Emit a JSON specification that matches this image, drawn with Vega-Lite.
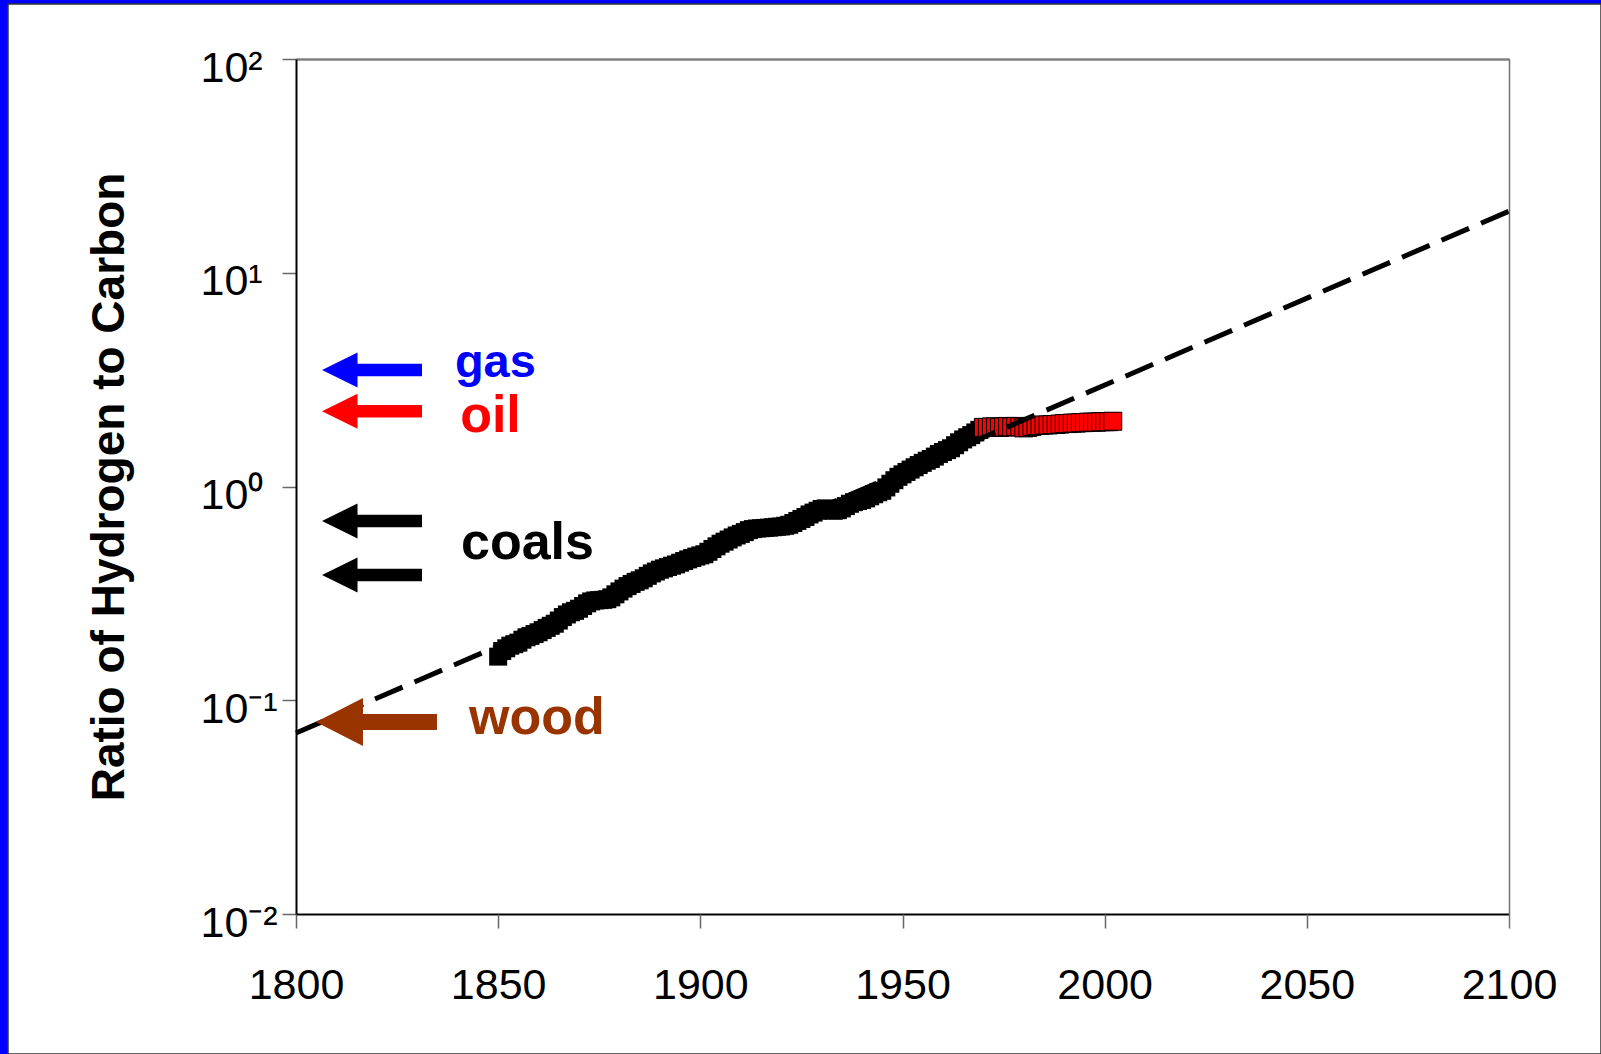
{
  "$schema": "https://vega.github.io/schema/vega-lite/v6.json",
  "width": 1593,
  "height": 1050,
  "autosize": {"type": "none"},
  "padding": {"left": 8, "top": 4, "right": 0, "bottom": 0},
  "background": "#0000FF",
  "config": {"view": {"fill": "#FFFFFF", "stroke": "#333333", "strokeWidth": 1.5}, "font": "Liberation Sans"},
  "datasets": {
    "coal": [
      {"year": 1850, "ratio": 0.160}, {"year": 1851, "ratio": 0.170}, {"year": 1852, "ratio": 0.175}, {"year": 1853, "ratio": 0.180}, {"year": 1854, "ratio": 0.183},
      {"year": 1855, "ratio": 0.186}, {"year": 1856, "ratio": 0.192}, {"year": 1857, "ratio": 0.197}, {"year": 1858, "ratio": 0.200}, {"year": 1859, "ratio": 0.204},
      {"year": 1860, "ratio": 0.208}, {"year": 1861, "ratio": 0.213}, {"year": 1862, "ratio": 0.218}, {"year": 1863, "ratio": 0.223}, {"year": 1864, "ratio": 0.228},
      {"year": 1865, "ratio": 0.236}, {"year": 1866, "ratio": 0.245}, {"year": 1867, "ratio": 0.252}, {"year": 1868, "ratio": 0.258}, {"year": 1869, "ratio": 0.262},
      {"year": 1870, "ratio": 0.268}, {"year": 1871, "ratio": 0.276}, {"year": 1872, "ratio": 0.284}, {"year": 1873, "ratio": 0.290}, {"year": 1874, "ratio": 0.293},
      {"year": 1875, "ratio": 0.294}, {"year": 1876, "ratio": 0.295}, {"year": 1877, "ratio": 0.297}, {"year": 1878, "ratio": 0.303}, {"year": 1879, "ratio": 0.313},
      {"year": 1880, "ratio": 0.323}, {"year": 1881, "ratio": 0.333}, {"year": 1882, "ratio": 0.342}, {"year": 1883, "ratio": 0.350}, {"year": 1884, "ratio": 0.358},
      {"year": 1885, "ratio": 0.364}, {"year": 1886, "ratio": 0.372}, {"year": 1887, "ratio": 0.382}, {"year": 1888, "ratio": 0.392}, {"year": 1889, "ratio": 0.400},
      {"year": 1890, "ratio": 0.408}, {"year": 1891, "ratio": 0.414}, {"year": 1892, "ratio": 0.420}, {"year": 1893, "ratio": 0.426}, {"year": 1894, "ratio": 0.432},
      {"year": 1895, "ratio": 0.440}, {"year": 1896, "ratio": 0.448}, {"year": 1897, "ratio": 0.456}, {"year": 1898, "ratio": 0.463}, {"year": 1899, "ratio": 0.470},
      {"year": 1900, "ratio": 0.476}, {"year": 1901, "ratio": 0.482}, {"year": 1902, "ratio": 0.495}, {"year": 1903, "ratio": 0.510}, {"year": 1904, "ratio": 0.525},
      {"year": 1905, "ratio": 0.540}, {"year": 1906, "ratio": 0.552}, {"year": 1907, "ratio": 0.565}, {"year": 1908, "ratio": 0.578}, {"year": 1909, "ratio": 0.590},
      {"year": 1910, "ratio": 0.600}, {"year": 1911, "ratio": 0.612}, {"year": 1912, "ratio": 0.625}, {"year": 1913, "ratio": 0.632}, {"year": 1914, "ratio": 0.636},
      {"year": 1915, "ratio": 0.638}, {"year": 1916, "ratio": 0.640}, {"year": 1917, "ratio": 0.642}, {"year": 1918, "ratio": 0.645}, {"year": 1919, "ratio": 0.648},
      {"year": 1920, "ratio": 0.650}, {"year": 1921, "ratio": 0.655}, {"year": 1922, "ratio": 0.662}, {"year": 1923, "ratio": 0.675}, {"year": 1924, "ratio": 0.690},
      {"year": 1925, "ratio": 0.705}, {"year": 1926, "ratio": 0.720}, {"year": 1927, "ratio": 0.740}, {"year": 1928, "ratio": 0.755}, {"year": 1929, "ratio": 0.770},
      {"year": 1930, "ratio": 0.785}, {"year": 1931, "ratio": 0.790}, {"year": 1932, "ratio": 0.780}, {"year": 1933, "ratio": 0.770}, {"year": 1934, "ratio": 0.775},
      {"year": 1935, "ratio": 0.790}, {"year": 1936, "ratio": 0.810}, {"year": 1937, "ratio": 0.830}, {"year": 1938, "ratio": 0.845}, {"year": 1939, "ratio": 0.855},
      {"year": 1940, "ratio": 0.865}, {"year": 1941, "ratio": 0.880}, {"year": 1942, "ratio": 0.900}, {"year": 1943, "ratio": 0.920}, {"year": 1944, "ratio": 0.940},
      {"year": 1945, "ratio": 0.955}, {"year": 1946, "ratio": 0.990}, {"year": 1947, "ratio": 1.030}, {"year": 1948, "ratio": 1.070}, {"year": 1949, "ratio": 1.110},
      {"year": 1950, "ratio": 1.140}, {"year": 1951, "ratio": 1.170}, {"year": 1952, "ratio": 1.200}, {"year": 1953, "ratio": 1.230}, {"year": 1954, "ratio": 1.260},
      {"year": 1955, "ratio": 1.290}, {"year": 1956, "ratio": 1.320}, {"year": 1957, "ratio": 1.345}, {"year": 1958, "ratio": 1.380}, {"year": 1959, "ratio": 1.420},
      {"year": 1960, "ratio": 1.450}, {"year": 1961, "ratio": 1.480}, {"year": 1962, "ratio": 1.510}, {"year": 1963, "ratio": 1.560}, {"year": 1964, "ratio": 1.610},
      {"year": 1965, "ratio": 1.660}, {"year": 1966, "ratio": 1.700}, {"year": 1967, "ratio": 1.740}, {"year": 1968, "ratio": 1.790}, {"year": 1969, "ratio": 1.840},
      {"year": 1970, "ratio": 1.880}
    ],
    "oilera": [
      {"year": 1970, "ratio": 1.89}, {"year": 1971, "ratio": 1.89}, {"year": 1972, "ratio": 1.90}, {"year": 1973, "ratio": 1.90}, {"year": 1974, "ratio": 1.89},
      {"year": 1975, "ratio": 1.90}, {"year": 1976, "ratio": 1.91}, {"year": 1977, "ratio": 1.90}, {"year": 1978, "ratio": 1.91}, {"year": 1979, "ratio": 1.90},
      {"year": 1980, "ratio": 1.88}, {"year": 1981, "ratio": 1.89}, {"year": 1982, "ratio": 1.91}, {"year": 1983, "ratio": 1.93}, {"year": 1984, "ratio": 1.93},
      {"year": 1985, "ratio": 1.94}, {"year": 1986, "ratio": 1.94}, {"year": 1987, "ratio": 1.95}, {"year": 1988, "ratio": 1.95}, {"year": 1989, "ratio": 1.96},
      {"year": 1990, "ratio": 1.97}, {"year": 1991, "ratio": 1.97}, {"year": 1992, "ratio": 1.98}, {"year": 1993, "ratio": 1.98}, {"year": 1994, "ratio": 1.99},
      {"year": 1995, "ratio": 1.99}, {"year": 1996, "ratio": 2.00}, {"year": 1997, "ratio": 2.00}, {"year": 1998, "ratio": 2.00}, {"year": 1999, "ratio": 2.01},
      {"year": 2000, "ratio": 2.01}, {"year": 2001, "ratio": 2.01}, {"year": 2002, "ratio": 2.02}
    ],
    "trend": [
      {"year": 1800, "ratio": 0.0703},
      {"year": 2100, "ratio": 19.4}
    ],
    "arrows": [
      {"fuel": "gas", "year": 1818.8, "ratio": 3.51},
      {"fuel": "oil", "year": 1818.8, "ratio": 2.25},
      {"fuel": "coals", "year": 1818.8, "ratio": 0.69},
      {"fuel": "coals", "year": 1818.8, "ratio": 0.385},
      {"fuel": "wood", "year": 1819.9, "ratio": 0.0791}
    ],
    "labels": [
      {"fuel": "gas", "year": 1839.3, "ratio": 3.253},
      {"fuel": "oil", "year": 1840.6, "ratio": 1.80},
      {"fuel": "coals", "year": 1840.8, "ratio": 0.458},
      {"fuel": "wood", "year": 1842.8, "ratio": 0.0695}
    ]
  },
  "encoding": {
    "x": {
      "field": "year", "type": "quantitative",
      "scale": {"domain": [1800, 2100], "range": [288, 1501], "nice": false, "zero": false},
      "axis": {
        "orient": "top",
        "values": [1800, 1850, 1900, 1950, 2000, 2050, 2100],
        "format": "d", "title": null, "offset": -55, "grid": false,
        "domainColor": "#808080", "domainWidth": 2,
        "tickSize": -869, "tickWidth": 1.5,
        "tickColor": {"condition": {"test": "datum.value === 2100", "value": "#707070"}, "value": "#666666"},
        "tickDash": {"condition": {"test": "datum.value === 2100", "value": [2000, 0]}, "value": [0, 855, 14, 2000]},
        "labelFont": "Liberation Sans", "labelFontSize": 43, "labelColor": "#000000",
        "labelPadding": -70, "labelBaseline": "alphabetic",
        "labelOverlap": false, "labelFlush": false, "labelBound": false,
        "zindex": 1
      }
    },
    "y": {
      "field": "ratio", "type": "quantitative",
      "scale": {"type": "log", "domain": [0.01, 100], "range": [910, 55], "nice": false},
      "axis": {
        "values": [0.01, 0.1, 1, 10, 100],
        "offset": -288,
        "labelExpr": "datum.value == 100 ? '10²' : datum.value == 10 ? '10¹' : datum.value == 1 ? '10⁰' : datum.value == 0.1 ? '10⁻¹' : '10⁻²'",
        "labelFont": "Liberation Sans", "labelFontSize": 43, "labelColor": "#000000",
        "labelAlign": "left", "labelPadding": 82, "labelBaseline": "alphabetic", "labelOffset": 22,
        "labelOverlap": false, "labelFlush": false, "labelBound": false,
        "grid": true, "gridWidth": 2,
        "gridColor": {"condition": {"test": "datum.value === 0.01", "value": "#000000"}, "value": "#808080"},
        "gridOpacity": {"condition": {"test": "datum.value === 100 || datum.value === 0.01", "value": 1}, "value": 0},
        "domainColor": "#000000", "domainWidth": 2,
        "tickColor": "#666666", "tickWidth": 1.5, "tickSize": 14,
        "title": "Ratio of Hydrogen to Carbon",
        "titleFont": "Liberation Sans", "titleFontSize": 46, "titleFontWeight": "bold",
        "titleColor": "#000000", "titleAngle": -90, "titleX": -173, "titleY": 482.5,
        "titleAlign": "center", "titleBaseline": "alphabetic",
        "zindex": 1
      }
    }
  },
  "layer": [
    {
      "data": {"name": "coal"},
      "mark": {"type": "square", "size": 324, "color": "#000000", "filled": true, "opacity": 1}
    },
    {
      "data": {"name": "oilera"},
      "mark": {"type": "square", "size": 324, "fill": "#FF0000", "stroke": "#000000", "strokeWidth": 1, "filled": true, "opacity": 1}
    },
    {
      "data": {"name": "trend"},
      "mark": {"type": "line", "color": "#000000", "strokeWidth": 5, "strokeDash": [30, 13]}
    },
    {
      "data": {"name": "arrows"},
      "transform": [{"filter": "datum.fuel != 'wood'"}],
      "mark": {"type": "point", "shape": "M-1,0L-0.29,-0.35L-0.29,-0.125L1,-0.125L1,0.125L-0.29,0.125L-0.29,0.35Z", "size": 10000, "filled": true, "opacity": 1, "strokeWidth": 0},
      "encoding": {
        "color": {"field": "fuel", "type": "nominal", "scale": {"domain": ["gas", "oil", "coals", "wood"], "range": ["#0000FF", "#FF0000", "#000000", "#993300"]}, "legend": null}
      }
    },
    {
      "data": {"name": "arrows"},
      "transform": [{"filter": "datum.fuel == 'wood'"}],
      "mark": {"type": "point", "shape": "M-1,0L-0.223,-0.397L-0.223,-0.132L1,-0.132L1,0.132L-0.223,0.132L-0.223,0.397Z", "size": 14641, "filled": true, "opacity": 1, "strokeWidth": 0},
      "encoding": {
        "color": {"field": "fuel", "type": "nominal", "legend": null}
      }
    },
    {
      "data": {"name": "labels"},
      "transform": [{"filter": "datum.fuel == 'gas'"}],
      "mark": {"type": "text", "align": "left", "baseline": "alphabetic", "font": "Liberation Sans", "fontWeight": "bold", "fontSize": 47},
      "encoding": {
        "text": {"field": "fuel"},
        "color": {"field": "fuel", "type": "nominal", "legend": null}
      }
    },
    {
      "data": {"name": "labels"},
      "transform": [{"filter": "datum.fuel != 'gas'"}],
      "mark": {"type": "text", "align": "left", "baseline": "alphabetic", "font": "Liberation Sans", "fontWeight": "bold", "fontSize": 52},
      "encoding": {
        "text": {"field": "fuel"},
        "color": {"field": "fuel", "type": "nominal", "legend": null}
      }
    }
  ]
}
